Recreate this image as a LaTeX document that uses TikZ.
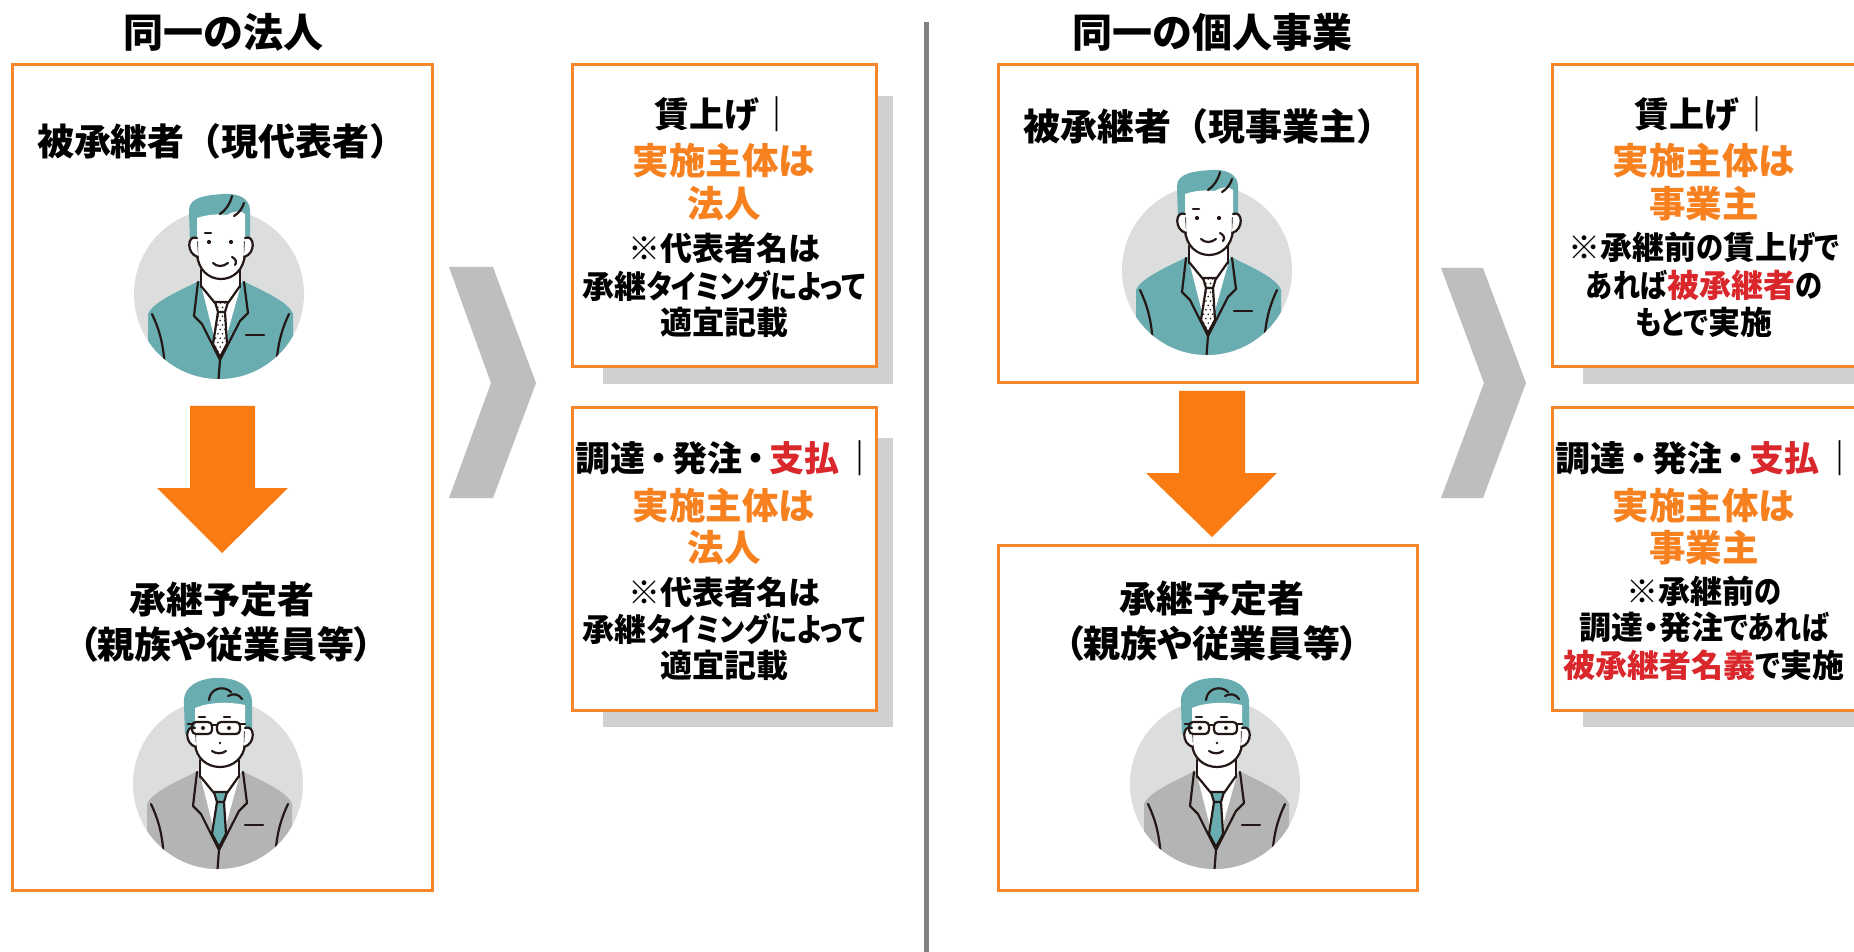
\documentclass[tikz,border=0pt]{standalone}
\usepackage{fontspec}
\setmainfont{Noto Sans CJK JP}
\newfontfamily\jpprop{Noto Sans CJK JP}[RawFeature=+palt]
\usetikzlibrary{fit}

\definecolor{boxorange}{HTML}{F7852A}
\definecolor{arroworange}{HTML}{F97B12}
\definecolor{txtorange}{HTML}{F7801F}
\definecolor{txtred}{HTML}{D9272B}
\definecolor{chevgray}{HTML}{BDBEBD}
\definecolor{shadowgray}{HTML}{D0D0D0}
\definecolor{divgray}{HTML}{7F7F7F}
\definecolor{discgray}{HTML}{DCDDDD}
\definecolor{hairteal}{HTML}{6AADB1}
\definecolor{suitgray}{HTML}{B4B4B4}
\definecolor{ink}{HTML}{231815}

% narrower kana runs
\newcommand\kn[1]{\scalebox{0.85}[1]{#1}}
% middle dot with a little air on both sides
\newcommand\md{\kern2.4pt{\jpprop ・}\kern2.4pt}

% jacket, shirt, neck and arms of a bust portrait on a grey disc (radius 85)
\newcommand\bustbody[1]{%
  \fill[discgray] (0,0) circle (85);
  \begin{scope}
    \clip (0,0) circle (85);
    \fill[#1] (-71,100) -- (-71,20) .. controls (-66,8) and (-40,-3) .. (-20,-13)
      -- (24,-13) .. controls (44,-3) and (70,8) .. (74,20) -- (74,100) -- cycle;
    \draw[ink,fig] (-67,20) .. controls (-60,35) and (-55,50) .. (-54,78);
    \draw[ink,fig] (70,20) .. controls (63,35) and (58,50) .. (57,78);
    \draw[ink,fig] (1,66) -- (-1,92);
  \end{scope}
  \fill[white] (-19,-13) -- (23,-13) -- (1,66) -- cycle;
  \fill[white] (-18,-32) rectangle (21,-6);
  \draw[ink,fig] (-18,-24) -- (-18,-7) (21,-24) -- (21,-7);
  \draw[ink,fig] (-18,-8) -- (-4,9) (21,-8) -- (9,9);
}
\newcommand\bustlapels{%
  \draw[ink,fig] (-21,-12) -- (-25,22) -- (-17,30) -- (1,66);
  \draw[ink,fig] (25,-12) -- (29,19) -- (21,27) -- (1,66);
  \draw[ink,fig] (27,41) -- (45,41);
}
\newcommand\tieshape{(-4,8) -- (9,8) -- (6,18) -- (-1,18) -- cycle
  (-1,18) -- (-6,50) -- (1,63) -- (8,50) -- (6,18) -- cycle}

\tikzset{
  fig/.style={line width=1.1pt, line cap=round, line join=round},
  obox/.style={draw=boxorange, line width=1.5pt, fill=white, inner sep=0pt},
  shadowbox/.style={fill=shadowgray, draw=none, inner sep=0pt},
  title/.style={inner sep=0pt, font=\fontsize{20pt}{24pt}\selectfont\bfseries},
  who/.style={inner sep=0pt, font=\fontsize{18.5pt}{22pt}\selectfont\bfseries},
  heir/.style={inner sep=0pt, font=\jpprop\fontsize{18.5pt}{22pt}\selectfont\bfseries},
  head/.style={inner sep=0pt, font=\fontsize{17.5pt}{20pt}\selectfont\bfseries},
  lead/.style={inner sep=0pt, text=txtorange, font=\fontsize{18.25pt}{22pt}\selectfont\bfseries},
  note/.style={inner sep=0pt, font=\jpprop\fontsize{16pt}{19pt}\selectfont\bfseries},
  pics/elder/.style={code={
    \bustbody{hairteal}
    \begin{scope}
      \clip \tieshape;
      \fill[white] (-10,5) rectangle (12,66);
      \foreach \i in {0,...,13}
        \foreach \j in {0,...,4}
          \fill[ink] ({-8+\j*4.6+mod(\i,2)*2.3},{9+\i*4.4}) circle (0.9);
    \end{scope}
    \draw[ink,fig] \tieshape;
    \bustlapels
    \fill[hairteal] (-29,-48) -- (-30,-84) .. controls (-30,-97) and (-12,-99) .. (5,-100)
      .. controls (20,-101) and (31,-95) .. (31,-84) -- (31,-48) -- cycle;
    \fill[white] (-22,-76) .. controls (-10,-80) and (0,-80) .. (8,-79)
      .. controls (14,-83) and (22,-84) .. (26,-80) -- (26,-40)
      .. controls (25,-24) and (14,-15) .. (2,-15) .. controls (-10,-15) and (-21,-24) .. (-22,-40) -- cycle;
    \draw[ink,fig] (-22,-52) -- (-22,-40) .. controls (-21,-24) and (-10,-15) .. (2,-15)
      .. controls (14,-15) and (25,-24) .. (26,-40) -- (26,-52);
    \filldraw[fill=white,draw=ink,fig] (-22,-56) .. controls (-32,-60) and (-33,-40) .. (-21,-37);
    \filldraw[fill=white,draw=ink,fig] (26,-56) .. controls (36,-60) and (37,-40) .. (25,-37);
    \draw[ink,fig] (13,-98) .. controls (11,-90) and (7,-84) .. (1,-80);
    \draw[ink,fig] (25,-91) .. controls (23,-85) and (20,-81) .. (15,-78);
    \draw[ink,fig] (-14,-61) -- (-8,-61);
    \fill[ink] (-10,-52) circle (2.1) (12,-52) circle (2.1);
    \draw[ink,fig] (-6,-31) .. controls (-2,-27) and (4,-27) .. (9,-31);
    \draw[ink,fig] (13,-37) .. controls (17,-35) and (18,-32) .. (16,-29);
  }},
  pics/junior/.style={code={
    \bustbody{suitgray}
    \filldraw[fill=hairteal,draw=ink,fig] \tieshape;
    \bustlapels
    \fill[hairteal] (-33,-50) -- (-34,-80) .. controls (-36,-99) and (-16,-107) .. (3,-106)
      .. controls (24,-105) and (36,-95) .. (34,-76) -- (34,-52) -- cycle;
    \fill[white] (-23,-76) .. controls (-12,-81) and (8,-83) .. (27,-79) -- (27,-40)
      .. controls (26,-26) and (15,-17) .. (2,-17) .. controls (-11,-17) and (-22,-26) .. (-23,-40) -- cycle;
    \draw[ink,fig] (-23,-50) -- (-23,-40) .. controls (-22,-26) and (-11,-17) .. (2,-17)
      .. controls (15,-17) and (26,-26) .. (27,-40) -- (27,-52);
    \filldraw[fill=white,draw=ink,fig] (-23,-56) .. controls (-33,-60) and (-34,-40) .. (-22,-37);
    \filldraw[fill=white,draw=ink,fig] (27,-56) .. controls (37,-60) and (38,-40) .. (26,-37);
    \draw[ink,fig] (-9,-84) .. controls (-8,-96) and (6,-99) .. (13,-92);
    \draw[ink,fig] (10,-88) .. controls (15,-91) and (21,-90) .. (24,-85);
    \draw[ink,fig,rounded corners=2] (-26,-62) rectangle (-6,-50);
    \draw[ink,fig,rounded corners=2] (-1,-62) rectangle (22,-50);
    \draw[ink,fig] (-6,-59) -- (-1,-59) (-30,-60) -- (-26,-60) (22,-60) -- (27,-60);
    \draw[ink,fig] (-19,-67) -- (-13,-67) (6,-67) -- (12,-67);
    \fill[ink] (-15,-56) circle (2) (11,-56) circle (2) (2,-41) circle (1.3);
    \draw[ink,fig] (-6,-33) .. controls (-2,-30) and (4,-30) .. (8,-33);
  }},
}

\begin{document}
\begin{tikzpicture}[x=0.5pt,y=-0.5pt]
\useasboundingbox (0,0) rectangle (1854,952);
\fill[white] (0,0) rectangle (1854,952);

% ---------- section: corporation ----------
\node[title] (ttlA) at (223,32) {同一の法人};
\node[obox, fit={(12,65)(432,890)}] (boxA) {};
\node[who] (fromA) at (222,141) {被承継者（現代表者）};
\pic at (219,294) {elder};
\fill[arroworange] (190,406) -- (255,406) -- (255,488) -- (288,488) -- (222,553)
  -- (157,488) -- (190,488) -- cycle;
\node[heir] (toA1) at (222,600) {承継予定者};
\node[heir] (toA2) at (226,644) {（親族や従業員等）};
\pic at (218,784) {junior};

\fill[chevgray] (449,267) -- (493,267) -- (536,383) -- (493,498) -- (449,498) -- (491,383) -- cycle;

\node[shadowbox, fit={(603,96)(893,384)}] (shA1) {};
\node[obox, fit={(572,65)(876,367)}] (wageA) {};
\node[head] (wA1) at (724,114) {賃上げ｜};
\node[lead] (wA2) at (724,161) {実施主体は};
\node[lead] (wA3) at (724,204) {法人};
\node[note] (wA4) at (724,248) {※代表者名は};
\node[note] (wA5) at (724,286) {承継\kn{タイミングによって}};
\node[note] (wA6) at (724,322) {適宜記載};

\node[shadowbox, fit={(603,438)(893,727)}] (shA2) {};
\node[obox, fit={(572,408)(876,710)}] (payA) {};
\node[head, anchor=west] (pA1) at (575,458) {調達\md 発注\md\textcolor{txtred}{支払}\hspace{1.5pt}｜};
\node[lead] (pA2) at (724,506) {実施主体は};
\node[lead] (pA3) at (724,548) {法人};
\node[note] (pA4) at (724,592) {※代表者名は};
\node[note] (pA5) at (724,629) {承継\kn{タイミングによって}};
\node[note] (pA6) at (724,665) {適宜記載};

% ---------- divider ----------
\draw[divgray, line width=2.5pt] (926,22) -- (926,952);

% ---------- section: sole proprietorship ----------
\node[title] (ttlB) at (1212,32) {同一の個人事業};
\node[obox, fit={(998,65)(1417,383)}] (boxB1) {};
\node[who] (fromB) at (1208,126) {被承継者（現事業主）};
\pic at (1207,270) {elder};
\fill[arroworange] (1179,391) -- (1245,391) -- (1245,473) -- (1277,473) -- (1212,537)
  -- (1146,473) -- (1179,473) -- cycle;
\node[obox, fit={(998,545)(1417,890)}] (boxB2) {};
\node[heir] (toB1) at (1212,599) {承継予定者};
\node[heir] (toB2) at (1212,643) {（親族や従業員等）};
\pic at (1215,784) {junior};

\fill[chevgray] (1441,268) -- (1483,268) -- (1526,383) -- (1483,498) -- (1441,498) -- (1484,383) -- cycle;

\node[shadowbox, fit={(1583,96)(1870,384)}] (shB1) {};
\node[obox, fit={(1552,65)(1857,367)}] (wageB) {};
\node[head] (wB1) at (1704,114) {賃上げ｜};
\node[lead] (wB2) at (1704,161) {実施主体は};
\node[lead] (wB3) at (1704,204) {事業主};
\node[note] (wB4) at (1704,248) {※承継前\kn{の}賃上\kn{げで}};
\node[note] (wB5) at (1704,285) {\kn{あれば}\textcolor{txtred}{被承継者}\kn{の}};
\node[note] (wB6) at (1704,322) {\kn{もとで}実施};

\node[shadowbox, fit={(1583,438)(1870,727)}] (shB2) {};
\node[obox, fit={(1552,408)(1857,710)}] (payB) {};
\node[head, anchor=west] (pB1) at (1555,458) {調達\md 発注\md\textcolor{txtred}{支払}\hspace{1.5pt}｜};
\node[lead] (pB2) at (1704,506) {実施主体は};
\node[lead] (pB3) at (1704,548) {事業主};
\node[note] (pB4) at (1704,591) {※承継前\kn{の}};
\node[note] (pB5) at (1704,627) {調達・発注\kn{であれば}};
\node[note] (pB6) at (1704,665) {\textcolor{txtred}{被承継者名義}\kn{で}実施};
\end{tikzpicture}
\end{document}
